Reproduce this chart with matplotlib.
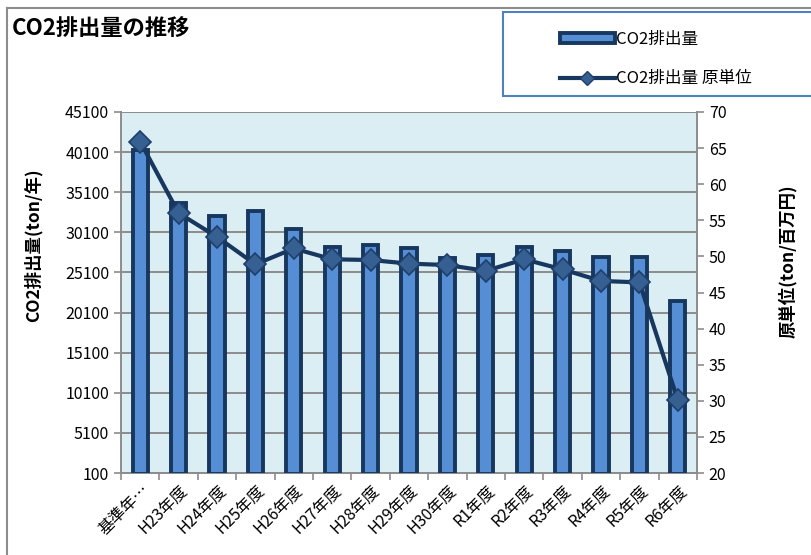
import numpy as np
import matplotlib.pyplot as plt
from matplotlib.patches import Rectangle, Patch
from matplotlib.lines import Line2D

plt.rcParams["font.family"] = ["Noto Sans CJK JP", "DejaVu Sans"]

categories = ["基準年…", "H23年度", "H24年度", "H25年度", "H26年度", "H27年度",
              "H28年度", "H29年度", "H30年度", "R1年度", "R2年度", "R3年度",
              "R4年度", "R5年度", "R6年度"]
co2 = [40400, 33800, 32100, 32700, 30500, 28300, 28500, 28100, 26900,
       27300, 28300, 27800, 27000, 27000, 21500]
intensity = [65.9, 56.0, 52.7, 48.9, 51.1, 49.6, 49.5, 49.0, 48.8,
             48.0, 49.6, 48.2, 46.6, 46.4, 30.1]
left_ticks = np.arange(100, 45101, 5000)
right_ticks = np.arange(20, 71, 5)

dark = "#17375E"
W, H = 811, 555
fig = plt.figure(figsize=(W / 100, H / 100), dpi=100)

# outer chart frame (only top / left visible)
fig.add_artist(Line2D([7 / W, 7 / W], [0, 1 - 8 / H], transform=fig.transFigure,
                      color="#8C8C8C", lw=1.5))
fig.add_artist(Line2D([7 / W, 1], [1 - 8 / H, 1 - 8 / H], transform=fig.transFigure,
                      color="#8C8C8C", lw=1.5))

ax = fig.add_axes([121 / W, 1 - 473 / H, (697 - 121) / W, (473 - 112) / H])
ax.set_facecolor("#DAEEF3")
x = np.arange(len(categories))
ax.bar(x, co2, width=0.4, bottom=0, color="#558ED5", edgecolor=dark,
       linewidth=2.8, zorder=3)
ax.set_ylim(100, 45100)
ax.set_xlim(-0.5, len(categories) - 0.5)
ax.set_yticks(left_ticks)
ax.yaxis.grid(True, color="#8C8C8C", lw=1.4, zorder=0)
ax.set_axisbelow(True)
ax.set_xticks(x)
ax.set_xticklabels(categories, rotation=45, ha="right", rotation_mode="anchor",
                   fontsize=11.5)
ax.tick_params(axis="x", length=0, pad=6)
ax.set_xticks(np.arange(-0.5, len(categories)), minor=True)
ax.tick_params(axis="x", which="minor", length=5, color="#8C8C8C", width=1.2)
ax.tick_params(axis="y", labelsize=11.5, length=5, color="#8C8C8C", width=1.2)
for s in ["top", "right"]:
    ax.spines[s].set_visible(False)
for s in ["left", "bottom"]:
    ax.spines[s].set_color("#8C8C8C")
    ax.spines[s].set_linewidth(1.4)
ax.set_ylabel("CO2排出量(ton/年)", fontsize=12.5, fontweight="bold",
              va="center", ha="center")
ax.yaxis.set_label_coords(-0.153, 0.632)

ax2 = ax.twinx()
ax2.plot(x, intensity, color=dark, lw=3, marker="D", markersize=11,
         markerfacecolor="#366092", markeredgecolor="#1F3F6A",
         markeredgewidth=1.2, zorder=5)
ax2.set_ylim(20, 70)
ax2.set_yticks(right_ticks)
ax2.tick_params(axis="y", labelsize=11.5, length=5, color="#8C8C8C", width=1.2)
for s in ["top", "left", "bottom"]:
    ax2.spines[s].set_visible(False)
ax2.spines["right"].set_color("#8C8C8C")
ax2.spines["right"].set_linewidth(1.4)
ax2.set_ylabel("原単位(ton/百万円)", fontsize=12.5, fontweight="bold",
               rotation=90, va="center", ha="center")
ax2.yaxis.set_label_coords(1.158, 0.587)

fig.text(12 / W, 1 - 29 / H, "CO2排出量の推移", fontsize=16, fontweight="bold",
         va="center", ha="left")

# legend box
fig.add_artist(Rectangle((503 / W, 1 - 96 / H), (W - 503 + 5) / W, 84 / H,
                         transform=fig.transFigure, facecolor="white",
                         edgecolor="#4F81BD", lw=1.5))
handles = [Patch(facecolor="#558ED5", edgecolor=dark, linewidth=2.8),
           Line2D([], [], color=dark, lw=3, marker="D", markersize=7,
                  markerfacecolor="#366092", markeredgecolor="#1F3F6A")]
fig.legend(handles, ["CO2排出量", "CO2排出量 原単位"], loc="upper left",
           bbox_to_anchor=(553 / W, 1 - 24 / H), frameon=False, fontsize=12,
           handlelength=3.3, handleheight=0.6, labelspacing=1.35,
           handletextpad=0.1, borderaxespad=0)

fig.savefig("out.png", dpi=100)
